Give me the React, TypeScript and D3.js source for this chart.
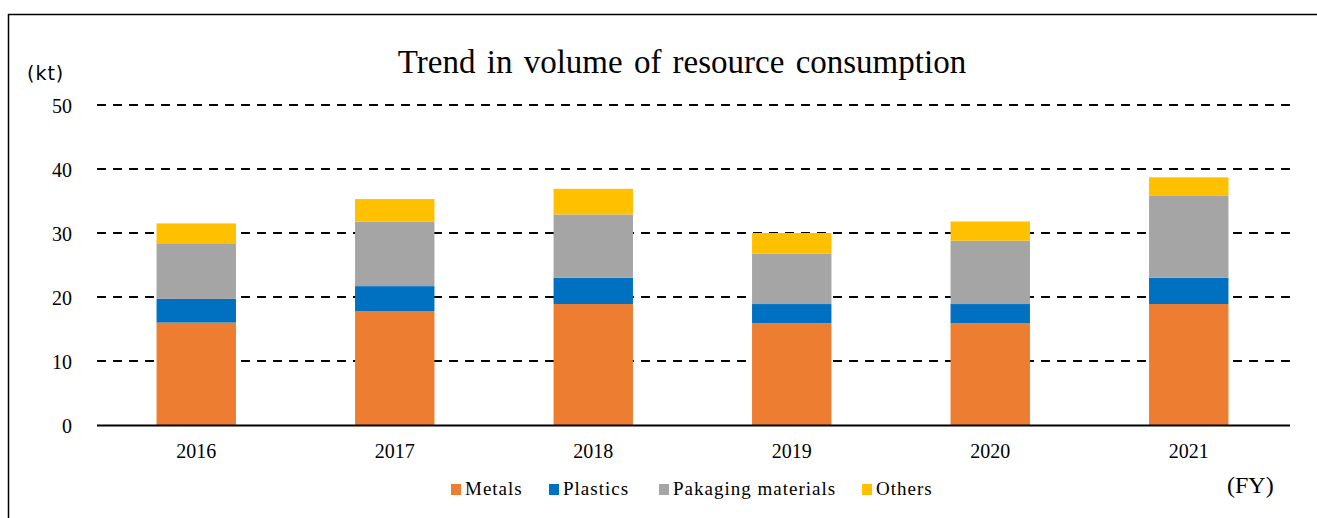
import { useEffect, useRef } from "react";
import * as d3 from "d3";

const YEARS = ["2016", "2017", "2018", "2019", "2020", "2021"];
const SERIES = ["Metals", "Plastics", "Pakaging materials", "Others"];
const METALS = [16.0, 17.8, 18.9, 15.9, 15.9, 18.9];
const PLASTICS = [3.7, 3.9, 4.1, 3.0, 3.0, 4.1];
const PACKAGING = [8.7, 10.1, 9.9, 7.9, 9.9, 12.8];
const OTHERS = [3.1, 3.5, 4.0, 3.2, 3.0, 2.9];
const Y_TICKS = [0, 10, 20, 30, 40, 50];

const COLORS: Record<string, string> = {
  Metals: "#ED7D31",
  Plastics: "#0070C0",
  "Pakaging materials": "#A5A5A5",
  Others: "#FFC000",
};

const W = 1317;
const H = 518;
const SERIF = "'Liberation Serif', 'DejaVu Serif', serif";

export default function App() {
  const svgRef = useRef<SVGSVGElement>(null);

  useEffect(() => {
    if (!svgRef.current) return;
    const svg = d3.select(svgRef.current);
    svg.selectAll("*").remove();

    // build rows for the stack
    const rows = YEARS.map((year, i) => ({
      year,
      Metals: METALS[i],
      Plastics: PLASTICS[i],
      "Pakaging materials": PACKAGING[i],
      Others: OTHERS[i],
    }));

    const x = d3
      .scaleBand<string>()
      .domain(YEARS)
      .range([97, 1288])
      .paddingInner(0.6)
      .paddingOuter(0.3);

    const y = d3.scaleLinear().domain([0, 50]).range([425, 105]);

    // outer frame
    svg
      .append("rect")
      .attr("x", 8.5)
      .attr("y", 14.5)
      .attr("width", 1330)
      .attr("height", 530)
      .attr("fill", "none")
      .attr("stroke", "#000")
      .attr("stroke-width", 1.5);

    // title
    svg
      .append("text")
      .attr("x", 682)
      .attr("y", 73)
      .attr("text-anchor", "middle")
      .attr("font-family", SERIF)
      .attr("font-size", "33px")
      .attr("word-spacing", "3px")
      .attr("fill", "#000")
      .text("Trend in volume of resource consumption");

    // unit label
    svg
      .append("text")
      .attr("x", 27)
      .attr("y", 80)
      .attr("font-family", "'DejaVu Sans', sans-serif")
      .attr("font-size", "19px")
      .attr("letter-spacing", "1px")
      .attr("fill", "#000")
      .text("(kt)");

    // gridlines
    svg
      .append("g")
      .selectAll("line")
      .data(Y_TICKS.filter((t) => t > 0))
      .join("line")
      .attr("x1", 97)
      .attr("x2", 1290)
      .attr("y1", (d) => y(d))
      .attr("y2", (d) => y(d))
      .attr("stroke", "#000")
      .attr("stroke-width", 2)
      .attr("stroke-dasharray", "9,7");

    // y tick labels
    svg
      .append("g")
      .selectAll("text")
      .data(Y_TICKS)
      .join("text")
      .attr("x", 72)
      .attr("y", (d) => y(d) + 8)
      .attr("text-anchor", "end")
      .attr("font-family", SERIF)
      .attr("font-size", "20px")
      .attr("fill", "#000")
      .text((d) => d);

    // stacked bars
    const stacked = d3.stack<any>().keys(SERIES)(rows);
    svg
      .append("g")
      .selectAll("g")
      .data(stacked)
      .join("g")
      .attr("fill", (s) => COLORS[s.key])
      .selectAll("rect")
      .data((s) => s)
      .join("rect")
      .attr("x", (d) => x(d.data.year)!)
      .attr("width", x.bandwidth())
      .attr("y", (d) => y(d[1]))
      .attr("height", (d) => y(d[0]) - y(d[1]));

    // baseline
    svg
      .append("line")
      .attr("x1", 97)
      .attr("x2", 1290)
      .attr("y1", 425.5)
      .attr("y2", 425.5)
      .attr("stroke", "#000")
      .attr("stroke-width", 2);

    // x labels
    svg
      .append("g")
      .selectAll("text")
      .data(YEARS)
      .join("text")
      .attr("x", (d) => x(d)! + x.bandwidth() / 2)
      .attr("y", 458)
      .attr("text-anchor", "middle")
      .attr("font-family", SERIF)
      .attr("font-size", "20px")
      .attr("fill", "#000")
      .text((d) => d);

    // legend
    const legendX = [451, 549, 659, 862];
    const leg = svg
      .append("g")
      .selectAll("g")
      .data(SERIES)
      .join("g")
      .attr("transform", (_, i) => `translate(${legendX[i]},484)`);
    leg
      .append("rect")
      .attr("width", 10)
      .attr("height", 11)
      .attr("fill", (d) => COLORS[d]);
    leg
      .append("text")
      .attr("x", 14)
      .attr("y", 11)
      .attr("font-family", SERIF)
      .attr("font-size", "19px")
      .attr("letter-spacing", "1px")
      .attr("fill", "#000")
      .text((d) => d);

    // FY label
    svg
      .append("text")
      .attr("x", 1227)
      .attr("y", 493)
      .attr("font-family", SERIF)
      .attr("font-size", "24px")
      .attr("fill", "#000")
      .text("(FY)");
  }, []);

  return (
    <svg
      ref={svgRef}
      width={W}
      height={H}
      style={{ position: "absolute", left: 0, top: 0, background: "#fff" }}
    />
  );
}
